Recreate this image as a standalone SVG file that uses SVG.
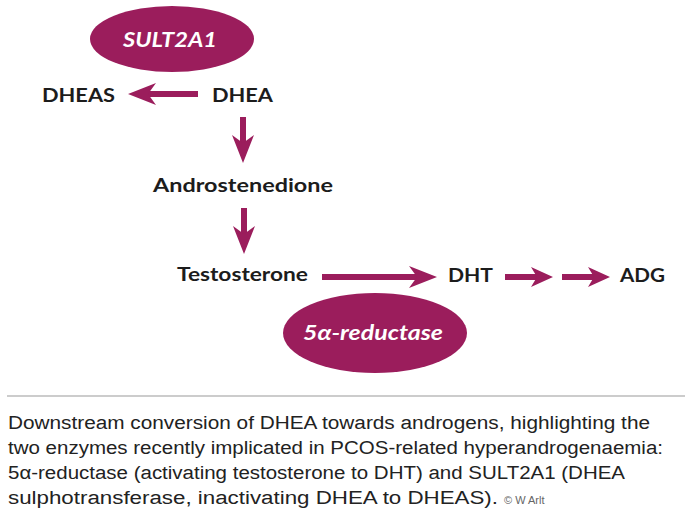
<svg xmlns="http://www.w3.org/2000/svg" width="700" height="520" viewBox="0 0 700 520">
  <style>
    .lbl { font-family: Lato, "Liberation Sans", sans-serif; font-weight: 700; font-size: 19px; fill: #1c1c1c; }
    .enz { font-family: Lato, "Liberation Sans", sans-serif; font-weight: 700; font-style: italic; font-size: 20px; fill: #ffffff; }
    .ell { fill: #9b1d5c; }
    .arr { stroke: #9b1d5c; stroke-width: 6; fill: none; }
    .cap { font-family: "Liberation Sans", Arial, sans-serif; font-size: 18px; fill: #222222; }
    .copy { font-family: "Liberation Sans", Arial, sans-serif; font-size: 11px; fill: #666666; }
  </style>
  <defs>
    <marker id="ah" markerUnits="userSpaceOnUse" viewBox="0 0 28 22" markerWidth="28" markerHeight="22" refX="14" refY="11" orient="auto">
      <path d="M0,0 L28,11 L0,22 L8,11 Z" fill="#9b1d5c"/>
    </marker>
    <marker id="ahs" markerUnits="userSpaceOnUse" viewBox="0 0 22 20" markerWidth="22" markerHeight="20" refX="11" refY="10" orient="auto">
      <path d="M0,0 L22,10 L0,20 L6,10 Z" fill="#9b1d5c"/>
    </marker>
  </defs>
  <rect width="700" height="520" fill="#ffffff"/>

  <g id="connectors">
    <line class="arr" x1="198" y1="94" x2="142" y2="94" marker-end="url(#ah)"/>
    <line class="arr" x1="243" y1="117" x2="243" y2="149" marker-end="url(#ah)"/>
    <line class="arr" x1="244" y1="208" x2="244" y2="240" marker-end="url(#ah)"/>
    <line class="arr" x1="322" y1="277" x2="423" y2="277" marker-end="url(#ah)"/>
    <line class="arr" x1="505" y1="277" x2="542" y2="277" marker-end="url(#ahs)"/>
    <line class="arr" x1="562" y1="277" x2="599" y2="277" marker-end="url(#ahs)"/>
  </g>

  <g id="sult2a1">
    <ellipse class="ell" cx="172" cy="39" rx="82" ry="33"/>
    <text class="enz" x="123" y="47" textLength="94" lengthAdjust="spacingAndGlyphs">SULT2A1</text>
  </g>
  <g id="dheas">
    <text class="lbl" x="42" y="102" textLength="73" lengthAdjust="spacingAndGlyphs">DHEAS</text>
  </g>
  <g id="dhea">
    <text class="lbl" x="212" y="102" textLength="61" lengthAdjust="spacingAndGlyphs">DHEA</text>
  </g>
  <g id="androstenedione">
    <text class="lbl" x="153" y="192" textLength="180" lengthAdjust="spacingAndGlyphs">Androstenedione</text>
  </g>
  <g id="testosterone">
    <text class="lbl" x="177" y="281" textLength="131" lengthAdjust="spacingAndGlyphs">Testosterone</text>
  </g>
  <g id="dht">
    <text class="lbl" x="448" y="282" textLength="45" lengthAdjust="spacingAndGlyphs">DHT</text>
  </g>
  <g id="adg">
    <text class="lbl" x="620" y="282" textLength="45" lengthAdjust="spacingAndGlyphs">ADG</text>
  </g>
  <g id="reductase">
    <ellipse class="ell" cx="375" cy="333" rx="92" ry="40"/>
    <text class="enz" x="303" y="340" textLength="140" lengthAdjust="spacingAndGlyphs">5α-reductase</text>
  </g>

  <g id="caption">
    <line x1="7" y1="396" x2="685" y2="396" stroke="#cccccc" stroke-width="2"/>
    <text class="cap" x="8" y="429" textLength="642" lengthAdjust="spacingAndGlyphs">Downstream conversion of DHEA towards androgens, highlighting the</text>
    <text class="cap" x="8" y="454" textLength="655" lengthAdjust="spacingAndGlyphs">two enzymes recently implicated in PCOS-related hyperandrogenaemia:</text>
    <text class="cap" x="8" y="479" textLength="617" lengthAdjust="spacingAndGlyphs">5α-reductase (activating testosterone to DHT) and SULT2A1 (DHEA</text>
    <text class="cap" x="8" y="504" textLength="490" lengthAdjust="spacingAndGlyphs">sulphotransferase, inactivating DHEA to DHEAS).</text>
    <text class="copy" x="504" y="504">© W Arlt</text>
  </g>
</svg>
